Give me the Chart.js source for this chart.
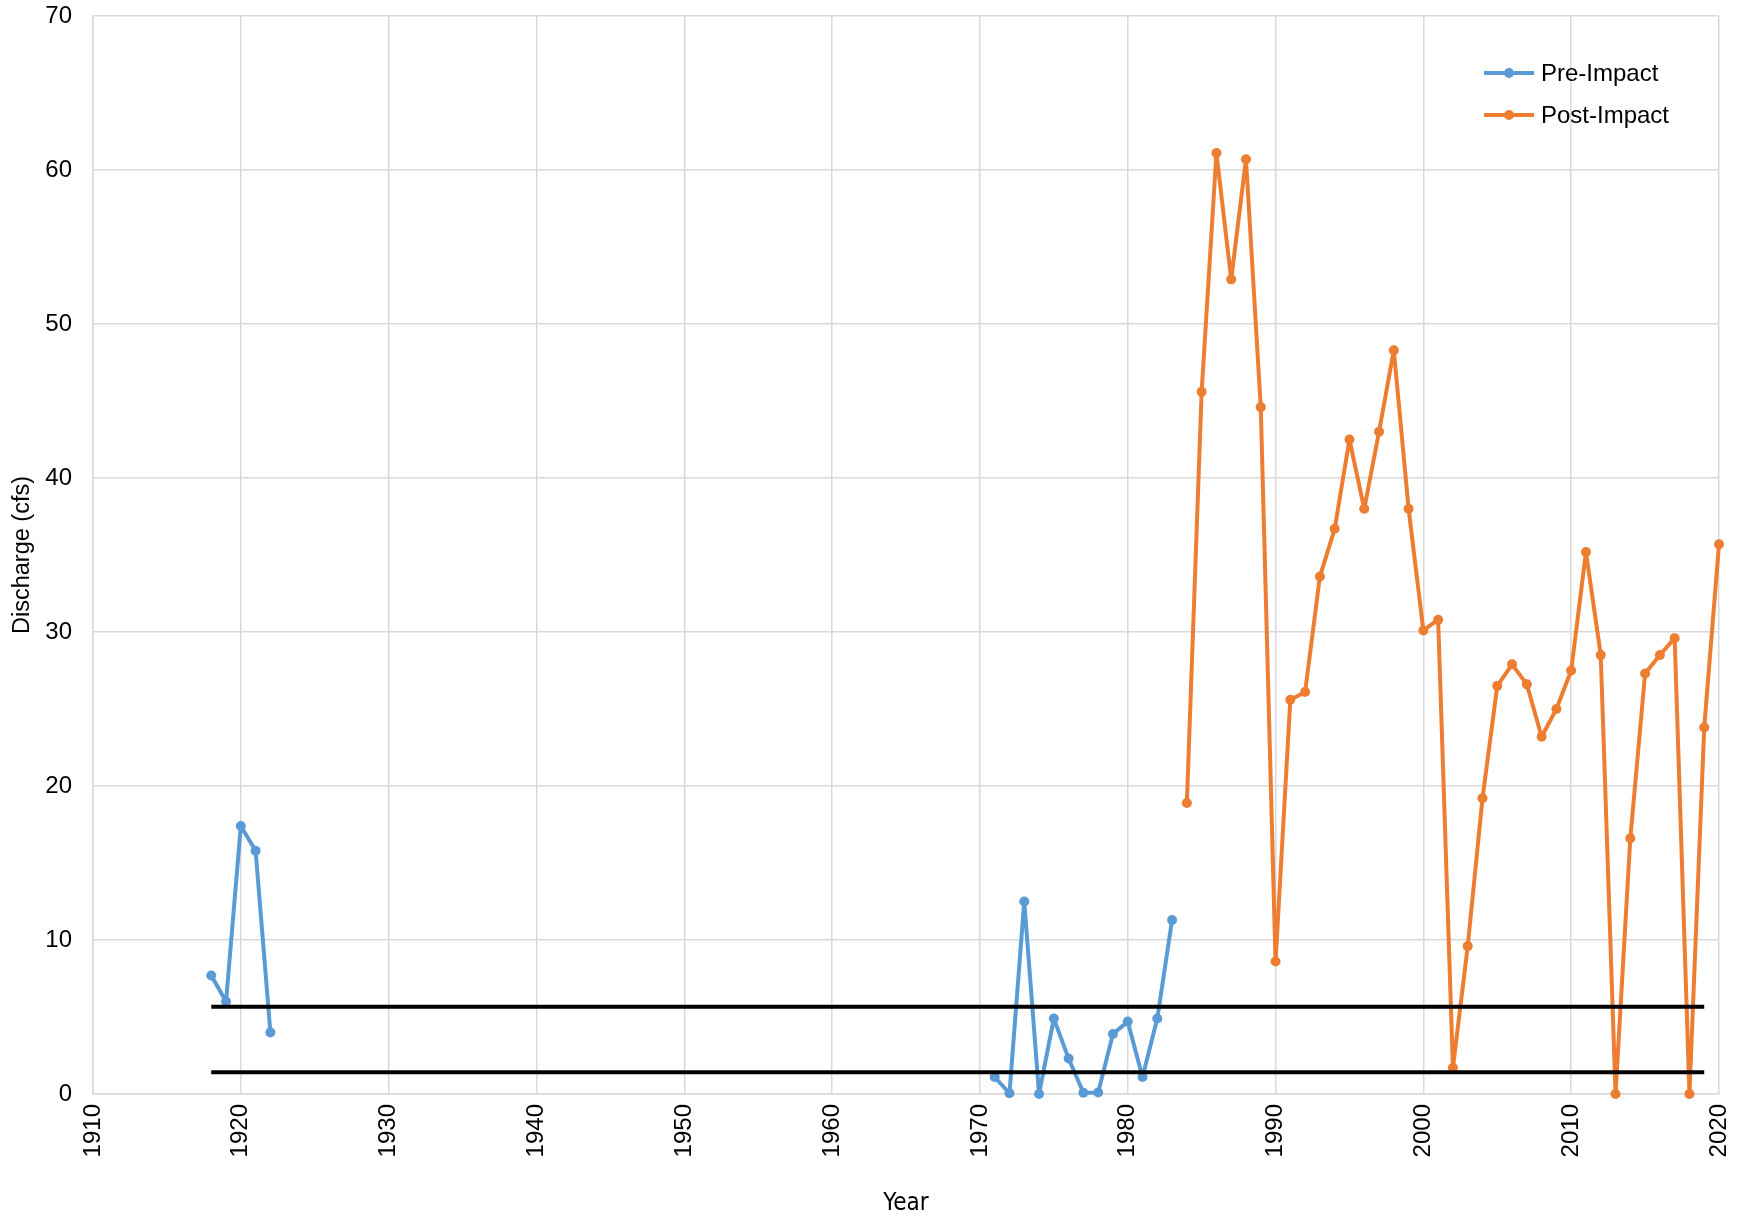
<!DOCTYPE html>
<html>
<head>
<meta charset="utf-8">
<script src="https://cdn.jsdelivr.net/npm/chart.js@4.4.1/dist/chart.umd.min.js"></script>
<style>
  html, body { margin: 0; padding: 0; background: #fff; }
  #wrap { width: 1737px; height: 1222px; }
</style>
</head>
<body>
<div id="wrap"><canvas id="flowChart"></canvas></div>
<script>
const preYears = [1918, 1919, 1920, 1921, 1922, 1971, 1972, 1973, 1974, 1975, 1976, 1977, 1978, 1979, 1980, 1981, 1982, 1983];
const preValues = [7.7, 6.0, 17.4, 15.8, 4.0, 1.1, 0.05, 12.5, 0, 4.9, 2.3, 0.08, 0.1, 3.9, 4.7, 1.1, 4.9, 11.3];

const postYears = [1984, 1985, 1986, 1987, 1988, 1989, 1990, 1991, 1992, 1993, 1994, 1995, 1996, 1997, 1998, 1999, 2000, 2001, 2002, 2003, 2004, 2005, 2006, 2007, 2008, 2009, 2010, 2011, 2012, 2013, 2014, 2015, 2016, 2017, 2018, 2019, 2020];
const postValues = [18.9, 45.6, 61.1, 52.9, 60.7, 44.6, 8.6, 25.6, 26.1, 33.6, 36.7, 42.5, 38.0, 43.0, 48.3, 38.0, 30.1, 30.8, 1.7, 9.6, 19.2, 26.5, 27.9, 26.6, 23.2, 25.0, 27.5, 35.2, 28.5, 0, 16.6, 27.3, 28.5, 29.6, 0, 23.8, 35.7];

const thresholdYears = [1918, 2019];
const upperThreshold = 5.67;
const lowerThreshold = 1.41;

const pts = (xs, ys) => xs.map((x, i) => ({ x: x, y: ys[i] }));
const FONT = '"Liberation Sans", Arial, sans-serif';

const BLUE = '#5b9bd5';
const ORANGE = '#ed7d31';

// legend drawn inside the plot, top right
const insideLegend = {
  id: 'insideLegend',
  afterDatasetsDraw(chart) {
    const ctx = chart.ctx;
    const area = chart.chartArea;
    const items = chart.data.datasets.filter(d => d.inLegend);
    const x0 = area.right - 235;
    let y = area.top + 57;
    ctx.save();
    items.forEach(d => {
      ctx.strokeStyle = d.borderColor;
      ctx.lineWidth = 4;
      ctx.beginPath();
      ctx.moveTo(x0, y);
      ctx.lineTo(x0 + 50, y);
      ctx.stroke();
      ctx.fillStyle = d.borderColor;
      ctx.beginPath();
      ctx.arc(x0 + 25, y, 5, 0, Math.PI * 2);
      ctx.fill();
      ctx.fillStyle = '#000';
      ctx.font = '24px ' + FONT;
      ctx.textBaseline = 'middle';
      ctx.textAlign = 'left';
      ctx.fillText(d.label, x0 + 57, y + 1);
      y += 42;
    });
    ctx.restore();
  }
};

new Chart(document.getElementById('flowChart'), {
  type: 'line',
  data: {
    datasets: [
      {
        label: 'Upper',
        data: pts(thresholdYears, [upperThreshold, upperThreshold]),
        borderColor: '#000',
        borderWidth: 4,
        pointRadius: 0
      },
      {
        label: 'Lower',
        data: pts(thresholdYears, [lowerThreshold, lowerThreshold]),
        borderColor: '#000',
        borderWidth: 4,
        pointRadius: 0
      },
      {
        label: 'Pre-Impact',
        inLegend: true,
        data: pts(preYears, preValues),
        borderColor: BLUE,
        backgroundColor: BLUE,
        borderWidth: 4,
        borderJoinStyle: 'round',
        pointRadius: 5,
        pointBorderWidth: 0,
        spanGaps: 2,
        clip: false
      },
      {
        label: 'Post-Impact',
        inLegend: true,
        data: pts(postYears, postValues),
        borderColor: ORANGE,
        backgroundColor: ORANGE,
        borderWidth: 4,
        borderJoinStyle: 'round',
        pointRadius: 5,
        pointBorderWidth: 0,
        clip: false
      }
    ]
  },
  options: {
    responsive: true,
    maintainAspectRatio: false,
    animation: false,
    layout: { padding: 0 },
    plugins: {
      legend: { display: false },
      tooltip: { enabled: false }
    },
    scales: {
      x: {
        type: 'linear',
        min: 1910,
        max: 2020,
        afterFit: s => { s.height = 128; s.paddingLeft = 0; s.paddingRight = 18; },
        ticks: {
          stepSize: 10,
          minRotation: 90,
          maxRotation: 90,
          color: '#000',
          padding: 10,
          font: { family: FONT, size: 24 },
          callback: v => String(v)
        },
        grid: { color: '#d9d9d9', lineWidth: 1.5, drawTicks: false },
        border: { color: '#d9d9d9', width: 1.5 },
        title: {
          display: true,
          text: 'Year',
          color: '#000',
          padding: { top: 0, bottom: 4 },
          font: { family: '"Liberation Sans Narrow", "DejaVu Sans Condensed", Arial, sans-serif', size: 24 }
        }
      },
      y: {
        min: 0,
        max: 70,
        afterFit: s => { s.width = 93; s.paddingTop = 16; s.paddingBottom = 0; },
        ticks: {
          stepSize: 10,
          color: '#000',
          padding: 21,
          font: { family: FONT, size: 24 }
        },
        grid: { color: '#d9d9d9', lineWidth: 1.5, drawTicks: false },
        border: { color: '#d9d9d9', width: 1.5 },
        title: {
          display: true,
          text: 'Discharge (cfs)',
          color: '#000',
          padding: { top: 8, bottom: 0 },
          font: { family: FONT, size: 23.5 }
        }
      }
    }
  },
  plugins: [insideLegend]
});
</script>
</body>
</html>
